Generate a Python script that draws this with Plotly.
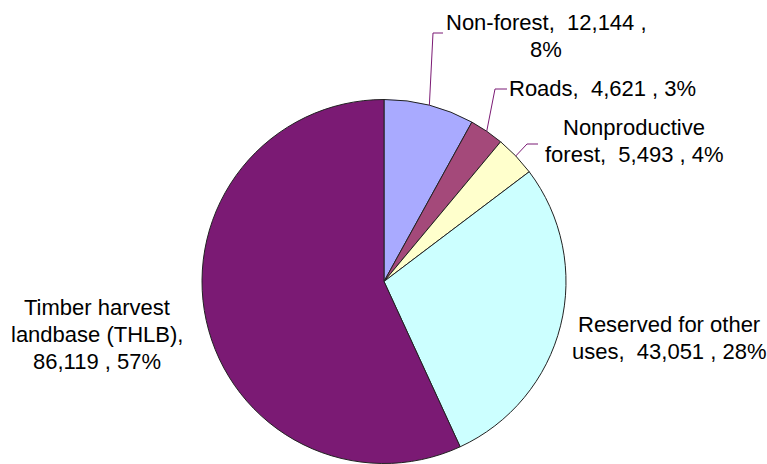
import math
import plotly.graph_objects as go

# ---- data ----
categories = ["Non-forest", "Roads", "Nonproductive forest",
              "Reserved for other uses", "Timber harvest landbase (THLB)"]
values = [12144, 4621, 5493, 43051, 86119]
label_lines = [
    ["Non-forest,\u00a0 12,144 ,", "8%"],
    ["Roads,\u00a0 4,621 , 3%"],
    ["Nonproductive", "forest,\u00a0 5,493 , 4%"],
    ["Reserved for other", "uses,\u00a0 43,051 , 28%"],
    ["Timber harvest", "landbase (THLB),", "86,119 , 57%"],
]
colors = ["#A9AAFF", "#A4497A", "#FFFFCC", "#CCFFFF", "#7B1A74"]

# ---- layout geometry (pixels in the 767x464 view) ----
W, H = 767, 464
cx, cy, R = 384, 281.5, 182
LINE_H = 27
# label block centres (px)
label_pos = [(546, 36), (602, 89), (634, 141), (669, 338), (97, 334)]
# leader elbow / end points for small slices (px); None = no leader
leader_pts = [((433, 33), (443, 33)), ((495, 89), (507, 89)),
              ((527, 144), (538, 144)), None, None]

def px(x):
    return x / W

def py(y):
    return min(1.0, max(0.0, 1 - y / H))

fig = go.Figure(go.Pie(
    labels=categories, values=values, sort=False, direction="clockwise",
    rotation=0, textinfo="none", hoverinfo="label+value+percent",
    marker=dict(colors=colors, line=dict(color="#222222", width=1)),
    domain=dict(x=[px(cx - R), px(cx + R)], y=[py(cy + R), py(cy - R)]),
    showlegend=False,
))

total = sum(values)
cum = 0
shapes = []
for v, lp in zip(values, leader_pts):
    mid = (cum + v / 2) / total * 2 * math.pi
    cum += v
    if lp is None:
        continue
    sx = cx + R * math.sin(mid)
    sy = cy - R * math.cos(mid)
    (ex, ey), (fx, fy) = lp
    path = f"M {px(sx)},{py(sy)} L {px(ex)},{py(ey)} L {px(fx)},{py(fy)}"
    shapes.append(dict(type="path", xref="paper", yref="paper", path=path,
                       line=dict(color="#7B1A74", width=1)))

annotations = []
for lines, (x, y) in zip(label_lines, label_pos):
    n = len(lines)
    for i, t in enumerate(lines):
        ly = y + (i - (n - 1) / 2) * LINE_H
        annotations.append(dict(text=t, x=px(x), y=py(ly), xref="paper", yref="paper",
                                xanchor="center", yanchor="middle", align="center",
                                showarrow=False,
                                font=dict(family="Arial, Liberation Sans, sans-serif",
                                          size=22, color="#000000")))

fig.update_layout(
    width=W, height=H, margin=dict(l=0, r=0, t=0, b=0),
    paper_bgcolor="white", plot_bgcolor="white",
    shapes=shapes, annotations=annotations,
)

fig.write_html("out.html",
               config={"displayModeBar": False},
               post_script="document.body.style.margin='0';"
                           "document.body.style.overflow='hidden';")
